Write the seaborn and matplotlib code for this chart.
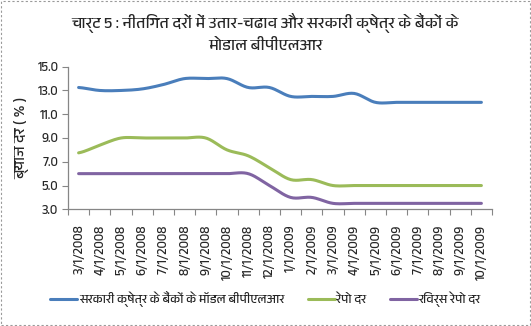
import numpy as np
import pandas as pd
import matplotlib
matplotlib.use("Agg")
import matplotlib.pyplot as plt
from matplotlib import font_manager, ft2font
from matplotlib.patches import Rectangle
import seaborn as sns

# ---- data -------------------------------------------------------------
dates = ["3/1/2008", "4/1/2008", "5/1/2008", "6/1/2008", "7/1/2008",
         "8/1/2008", "9/1/2008", "10/1/2008", "11/1/2008", "12/1/2008",
         "1/1/2009", "2/1/2009", "3/1/2009", "4/1/2009", "5/1/2009",
         "6/1/2009", "7/1/2009", "8/1/2009", "9/1/2009", "10/1/2009"]

bplr = [13.25, 13.0, 13.0, 13.13, 13.5, 14.0, 14.0, 14.0, 13.25, 13.25,
        12.5, 12.5, 12.5, 12.75, 12.0, 12.0, 12.0, 12.0, 12.0, 12.0]
repo = [7.75, 8.4, 9.0, 9.0, 9.0, 9.0, 9.0, 8.0, 7.5, 6.5,
        5.5, 5.5, 5.0, 5.0, 5.0, 5.0, 5.0, 5.0, 5.0, 5.0]
reverse_repo = [6.0, 6.0, 6.0, 6.0, 6.0, 6.0, 6.0, 6.0, 6.0, 5.0,
                4.0, 4.0, 3.5, 3.5, 3.5, 3.5, 3.5, 3.5, 3.5, 3.5]

series_names = ["सरकारी क्षेत्र के बैंकों के मॉडल बीपीएलआर", "रेपो दर", "रिवर्स रेपो दर"]
series_values = [bplr, repo, reverse_repo]
colors = ["#4A7EBB", "#9BBB59", "#8064A2"]

title_text = "चार्ट 5 : नीतिगत दरों में उतार-चढाव और सरकारी क्षेत्र के बैंकों के\nमोडाल बीपीएलआर"
ylabel_text = "ब्याज दर ( % )"
yticks = [3.0, 5.0, 7.0, 9.0, 11.0, 13.0, 15.0]


# ---- fonts ------------------------------------------------------------
def find_family(codepoint):
    best = None
    for fe in font_manager.fontManager.ttflist:
        try:
            if codepoint in ft2font.FT2Font(fe.fname).get_charmap():
                if "Devanagari" in fe.name:
                    return fe.name
                best = best or fe.name
        except Exception:
            pass
    return best


sns.set_theme(style="white")
deva = find_family(0x0915)
fam = ([deva] if deva else []) + ["Lato", "DejaVu Sans"]
plt.rcParams["font.family"] = fam


# ---- smooth curves (Catmull-Rom, as in smoothed line charts) -----------
def smooth(y, n=16):
    y = np.asarray(y, float)
    x = np.arange(len(y), dtype=float)
    p = np.concatenate([[y[0]], y, [y[-1]]])
    xs, ys = [], []
    for i in range(len(y) - 1):
        p0, p1, p2, p3 = p[i], p[i + 1], p[i + 2], p[i + 3]
        t = np.linspace(0, 1, n, endpoint=False)
        v = 0.5 * ((2 * p1) + (-p0 + p2) * t
                   + (2 * p0 - 5 * p1 + 4 * p2 - p3) * t ** 2
                   + (-p0 + 3 * p1 - 3 * p2 + p3) * t ** 3)
        xs.append(x[i] + t)
        ys.append(v)
    xs.append([x[-1]])
    ys.append([y[-1]])
    return np.concatenate(xs), np.concatenate(ys)


frames = []
for name, vals in zip(series_names, series_values):
    sx, sy = smooth(vals)
    frames.append(pd.DataFrame({"x": sx, "y": sy, "series": name}))
df = pd.concat(frames, ignore_index=True)

# ---- figure -----------------------------------------------------------
fig = plt.figure(figsize=(5.31, 3.26), dpi=100)
ax = fig.add_axes([68 / 531, 1 - 209.3 / 326, 424 / 531, 142.6 / 326])

sns.lineplot(data=df, x="x", y="y", hue="series", hue_order=series_names,
             palette=colors, sort=False, linewidth=2.2, ax=ax, legend=True)

ax.set_xlim(-0.5, len(dates) - 0.5)
ax.set_ylim(3.0, 15.0)
ax.set_yticks(yticks)
ax.set_yticklabels([f"{v:.1f}" for v in yticks], fontsize=9.3)
ax.set_xticks(np.arange(len(dates)))
ax.set_xticklabels(dates, rotation=90, fontsize=9.3)
ax.set_xticks(np.arange(len(dates) + 1) - 0.5, minor=True)
ax.tick_params(axis="x", which="major", length=0, pad=11)
ax.tick_params(axis="x", which="minor", length=4, direction="out",
               color="#868686", width=0.8, bottom=True)
ax.tick_params(axis="y", length=4, direction="out", color="#868686",
               width=0.8, left=True, pad=3)
ax.set_xlabel("")
ax.set_ylabel(ylabel_text, fontsize=11, fontweight="bold", labelpad=6)

for side in ["top", "right"]:
    ax.spines[side].set_visible(False)
for side in ["left", "bottom"]:
    ax.spines[side].set_color("#868686")
    ax.spines[side].set_linewidth(0.9)

handles, labels = ax.get_legend_handles_labels()
ax.legend(handles, labels, loc="center", bbox_to_anchor=(0.5, 1 - 299 / 326),
          bbox_transform=fig.transFigure, ncol=3, frameon=False,
          fontsize=9, handlelength=2.15, columnspacing=1.85, handletextpad=0.15)

fig.text(0.5, 1 - 33 / 326, title_text, ha="center", va="center",
         fontsize=11.6, linespacing=1.6)

fig.patches.append(Rectangle((0.001, 0.002), 0.997, 0.995, transform=fig.transFigure,
                             fill=False, edgecolor="#9a9a9a", linewidth=0.8,
                             linestyle=(0, (2, 2))))

fig.savefig("out.png", dpi=100)
